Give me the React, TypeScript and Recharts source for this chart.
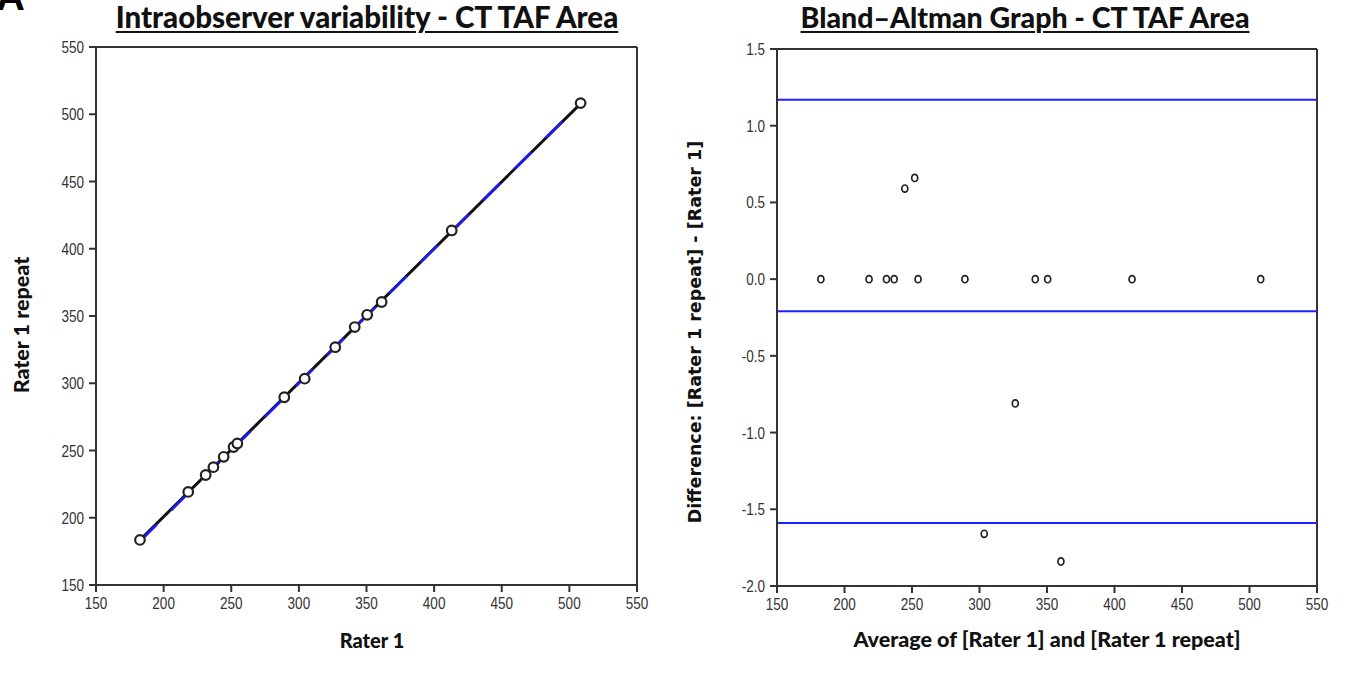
import React from 'react';
import { ScatterChart, Scatter, XAxis, YAxis, ReferenceLine } from 'recharts';

// ---- Data ----
const rater1 = [182.5, 218.2, 231.1, 236.8, 244.4, 251.7, 254.5, 289.2, 304.3, 326.9, 341.3, 350.5, 361.2, 413.0, 508.3];
const rater1Repeat = [183.5, 219.2, 231.8, 237.6, 245.3, 252.6, 255.2, 289.6, 303.4, 326.8, 341.8, 350.9, 360.4, 413.6, 508.3];

const baAverage = [182.5, 218.2, 231.1, 236.8, 244.7, 252.0, 254.5, 289.2, 303.5, 326.5, 341.3, 350.5, 360.3, 413.0, 508.3];
const baDifference = [0, 0, 0, 0, 0.59, 0.66, 0, 0, -1.66, -0.81, 0, 0, -1.84, 0, 0];

const upperLimit = 1.17;
const meanDifference = -0.21;
const lowerLimit = -1.59;

const xTicks = [150, 200, 250, 300, 350, 400, 450, 500, 550];
const leftYTicks = [150, 200, 250, 300, 350, 400, 450, 500, 550];
const rightYTicks = [-2.0, -1.5, -1.0, -0.5, 0.0, 0.5, 1.0, 1.5];

// ---- Derived tables ----
const leftData = rater1.map((x, i) => ({ x, y: rater1Repeat[i] }));
const baData = baAverage.map((x, i) => ({ x, y: baDifference[i] }));

const n = rater1.length;
const mx = rater1.reduce((a, b) => a + b, 0) / n;
const my = rater1Repeat.reduce((a, b) => a + b, 0) / n;
let sxy = 0;
let sxx = 0;
for (let i = 0; i < n; i++) {
  sxy += (rater1[i] - mx) * (rater1Repeat[i] - my);
  sxx += (rater1[i] - mx) * (rater1[i] - mx);
}
const slope = sxy / sxx;
const intercept = my - slope * mx;
const xMin = Math.min(...rater1);
const xMax = Math.max(...rater1);

const TICK_FONT = "'Liberation Sans', Arial, sans-serif";
const axisStroke = { stroke: '#333', strokeWidth: 2 };

const makeXTick = (fmt: (v: number) => string) => (props: any) => {
  const { x, y, payload } = props;
  return (
    <text
      transform={`translate(${x},${y}) scale(0.82,1)`}
      x={0}
      y={0}
      dy={12.5}
      textAnchor="middle"
      fill="#333"
      fontSize={16.5}
      fontFamily={TICK_FONT}
    >
      {fmt(payload.value)}
    </text>
  );
};
const makeYTick = (fmt: (v: number) => string) => (props: any) => {
  const { x, y, payload } = props;
  return (
    <text
      transform={`translate(${x},${y}) scale(0.82,1)`}
      x={0}
      y={0}
      dy={6}
      textAnchor="end"
      fill="#333"
      fontSize={16.5}
      fontFamily={TICK_FONT}
    >
      {fmt(payload.value)}
    </text>
  );
};
const intFmt = (v: number) => String(v);
const decFmt = (v: number) => v.toFixed(1);

const BigDot = (props: any) => (
  <circle cx={props.cx} cy={props.cy} r={4.8} fill="#fff" stroke="#222" strokeWidth={2.2} />
);
const SmallDot = (props: any) => (
  <ellipse cx={props.cx} cy={props.cy} rx={3} ry={3.6} fill="#fff" stroke="#222" strokeWidth={1.7} />
);

const titleStyle: React.CSSProperties = {
  position: 'absolute',
  fontFamily: 'Lato, sans-serif',
  fontWeight: 900,
  fontSize: 29.5,
  textDecoration: 'underline',
  textDecorationThickness: 2,
  textUnderlineOffset: 3,
  color: '#111',
  whiteSpace: 'nowrap',
  transform: 'translateX(-50%)',
  lineHeight: 1,
};
const axisTitleStyle: React.CSSProperties = {
  position: 'absolute',
  fontFamily: 'Lato, sans-serif',
  fontWeight: 900,
  fontSize: 21.5,
  color: '#111',
  whiteSpace: 'nowrap',
  lineHeight: 1,
};

export default function App() {
  return (
    <div style={{ position: 'absolute', left: 0, top: 0, width: 1346, height: 676, background: '#fff', overflow: 'hidden' }}>
      <div style={{ position: 'absolute', left: -4, top: -26, fontFamily: 'Arial, sans-serif', fontWeight: 700, fontSize: 40, color: '#000' }}>A</div>

      <div style={{ ...titleStyle, left: 367, top: 2 }}>Intraobserver variability - CT TAF Area</div>
      <div style={{ ...titleStyle, fontSize: 28.5, left: 1025, top: 3 }}>Bland–Altman Graph - CT TAF Area</div>

      <div style={{ position: 'absolute', left: 0, top: 0 }}>
        <ScatterChart width={660} height={676} margin={{ top: 47, right: 23, bottom: 61, left: 36 }}>
          <XAxis
            type="number"
            dataKey="x"
            domain={[150, 550]}
            ticks={xTicks}
            allowDataOverflow
            tick={makeXTick(intFmt)}
            tickSize={7}
            tickMargin={4}
            tickLine={axisStroke}
            axisLine={axisStroke}
            height={30}
          />
          <YAxis
            type="number"
            dataKey="y"
            domain={[150, 550]}
            ticks={leftYTicks}
            allowDataOverflow
            tick={makeYTick(intFmt)}
            tickSize={7}
            tickMargin={5}
            tickLine={axisStroke}
            axisLine={axisStroke}
            width={60}
          />
          <ReferenceLine y={550} stroke="#333" strokeWidth={2} />
          <ReferenceLine x={550} stroke="#333" strokeWidth={2} />
          <ReferenceLine
            segment={[{ x: xMin, y: slope * xMin + intercept }, { x: xMax, y: slope * xMax + intercept }]}
            stroke="#111"
            strokeWidth={3}
          />
          <ReferenceLine
            segment={[{ x: xMin, y: xMin }, { x: xMax, y: xMax }]}
            stroke="#1c1cff"
            strokeWidth={2.5}
            strokeDasharray="24 20"
          />
          <Scatter data={leftData} shape={BigDot} isAnimationActive={false} />
        </ScatterChart>
      </div>

      <div style={{ position: 'absolute', left: 660, top: 0 }}>
        <ScatterChart width={686} height={676} margin={{ top: 49, right: 29, bottom: 60, left: 57 }}>
          <XAxis
            type="number"
            dataKey="x"
            domain={[150, 550]}
            ticks={xTicks}
            allowDataOverflow
            tick={makeXTick(intFmt)}
            tickSize={7}
            tickMargin={4}
            tickLine={axisStroke}
            axisLine={axisStroke}
            height={30}
          />
          <YAxis
            type="number"
            dataKey="y"
            domain={[-2, 1.5]}
            ticks={rightYTicks}
            allowDataOverflow
            tick={makeYTick(decFmt)}
            tickSize={7}
            tickMargin={5}
            tickLine={axisStroke}
            axisLine={axisStroke}
            width={60}
          />
          <ReferenceLine y={1.5} stroke="#333" strokeWidth={2} />
          <ReferenceLine x={550} stroke="#333" strokeWidth={2} />
          <ReferenceLine y={upperLimit} stroke="#1f1fff" strokeWidth={2} />
          <ReferenceLine y={meanDifference} stroke="#1f1fff" strokeWidth={2} />
          <ReferenceLine y={lowerLimit} stroke="#1f1fff" strokeWidth={2} />
          <Scatter data={baData} shape={SmallDot} isAnimationActive={false} />
        </ScatterChart>
      </div>

      <div style={{ ...axisTitleStyle, fontSize: 20, left: 372, top: 630, transform: 'translateX(-50%)' }}>Rater 1</div>
      <div style={{ ...axisTitleStyle, left: 1047, top: 629, transform: 'translateX(-50%)' }}>Average of [Rater 1] and [Rater 1 repeat]</div>

      <div style={{ ...axisTitleStyle, left: 22, top: 325, transform: 'translate(-50%, -50%) rotate(-90deg)' }}>Rater 1 repeat</div>
      <div
        style={{
          ...axisTitleStyle,
          fontFamily: "'DejaVu Sans', Verdana, sans-serif",
          fontSize: 17.5,
          left: 696,
          top: 332,
          transform: 'translate(-50%, -50%) rotate(-90deg)',
        }}
      >
        Difference: [Rater 1 repeat] - [Rater 1]
      </div>
    </div>
  );
}
